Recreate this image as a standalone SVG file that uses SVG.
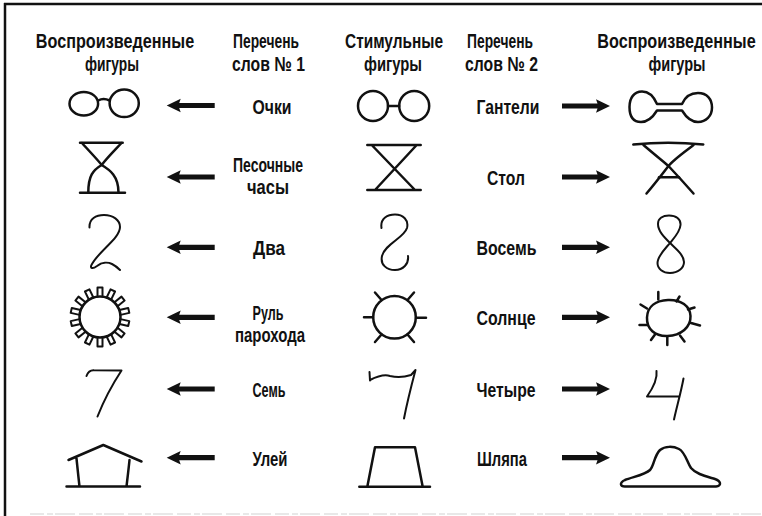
<svg xmlns="http://www.w3.org/2000/svg" width="762" height="516" viewBox="0 0 762 516">
  <defs>
    <style>
      .t { font-family: "Liberation Sans", Arial, sans-serif; font-weight: bold; font-size: 20.5px; fill: #111; text-anchor: middle; }
      .fig { fill: none; stroke: #111; stroke-width: 2.5; stroke-linecap: round; stroke-linejoin: round; }
      .pen { fill: none; stroke: #111; stroke-width: 2; stroke-linecap: round; stroke-linejoin: round; }
      .arrow { fill: #111; }
      .frame { stroke: #111; stroke-width: 2.5; fill: none; }
    </style>
    <!-- arrow pointing left, tip at origin -->
    <path id="arrL" d="M0,0 L14,-6.8 L12.5,-2.6 L48,-2.6 L48,2.6 L12.5,2.6 L14,6.8 Z"/>
    <!-- arrow pointing right, tip at origin -->
    <path id="arrR" d="M0,0 L-14,-6.8 L-12.5,-2.6 L-48,-2.6 L-48,2.6 L-12.5,2.6 L-14,6.8 Z"/>
    <!-- one tab of the ship's wheel -->
    <path id="tab" d="M-2.5,-20.5 V-29.5 H2.5 V-20.5"/>
  </defs>

  <rect width="762" height="516" fill="#fff"/>

  <!-- frame -->
  <g id="frame">
    <line class="frame" x1="4" y1="4" x2="762" y2="4"/>
    <line class="frame" x1="5" y1="3" x2="5" y2="516"/>
    <line x1="30" y1="514" x2="762" y2="514" stroke="#d2d2d2" stroke-width="1.2" stroke-dasharray="14 3 6 2 20 4"/>
  </g>

  <!-- column headers (long ones condensed by horizontal scaling) -->
  <g id="headers">
    <text class="t" transform="translate(115 48) scale(0.79 1)">Воспроизведенные</text>
    <text class="t" x="112" y="71" textLength="54" lengthAdjust="spacingAndGlyphs">фигуры</text>
    <text class="t" x="266" y="48" textLength="66" lengthAdjust="spacingAndGlyphs">Перечень</text>
    <text class="t" x="268.5" y="71" textLength="73" lengthAdjust="spacingAndGlyphs">слов № 1</text>
    <text class="t" x="394" y="48" textLength="98" lengthAdjust="spacingAndGlyphs">Стимульные</text>
    <text class="t" x="393" y="71" textLength="58" lengthAdjust="spacingAndGlyphs">фигуры</text>
    <text class="t" x="500" y="48" textLength="66" lengthAdjust="spacingAndGlyphs">Перечень</text>
    <text class="t" x="501.5" y="71" textLength="73" lengthAdjust="spacingAndGlyphs">слов № 2</text>
    <text class="t" transform="translate(676.5 48) scale(0.79 1)">Воспроизведенные</text>
    <text class="t" x="677" y="71" textLength="57" lengthAdjust="spacingAndGlyphs">фигуры</text>
  </g>

  <!-- row 1: glasses / dumbbell -->
  <g id="row1-left-figure">
    <ellipse class="fig" cx="83.8" cy="103.7" rx="14.3" ry="11.8"/>
    <ellipse class="fig" cx="124.2" cy="103.3" rx="14.6" ry="13.8"/>
    <path class="fig" d="M98.3,100.5 Q103.3,97.5 109.6,100.5"/>
  </g>
  <g id="row1-word1"><text class="t" x="272" y="113.5" textLength="39" lengthAdjust="spacingAndGlyphs">Очки</text></g>
  <g id="row1-stimulus">
    <circle class="fig" cx="373" cy="106" r="15"/>
    <circle class="fig" cx="414.2" cy="106" r="15"/>
    <line class="fig" x1="388" y1="106" x2="399.2" y2="106"/>
  </g>
  <g id="row1-word2"><text class="t" x="508" y="113.5" textLength="63" lengthAdjust="spacingAndGlyphs">Гантели</text></g>
  <g id="row1-right-figure">
    <path class="fig" d="M657,104 L682,104 C685,97 691,93 698,93 C707,93 712,99 712,107.5 C712,116 706,122 698,122 C691,122 686,117 682,110.5 L657,110.5 C653,117 648,122 641,122 C633,122 629.5,116 629.5,107 C629.5,98 634,91.5 642,91.5 C650,91.5 654,97 657,104 Z"/>
  </g>

  <!-- row 2: hourglass / table -->
  <g id="row2-left-figure">
    <path class="fig" d="M80,142.7 H122.7 M80,192.7 H125"/>
    <path class="fig" d="M82,143 C90,152 97,159 101.7,165 C110,170 118.5,176 118.5,192.5"/>
    <path class="fig" d="M121.5,143 C113,152 106,159 101.7,165 C93,170 88.3,176 88.3,192.5"/>
  </g>
  <g id="row2-word1">
    <text class="t" x="268" y="172" textLength="70" lengthAdjust="spacingAndGlyphs">Песочные</text>
    <text class="t" x="268" y="194" textLength="42" lengthAdjust="spacingAndGlyphs">часы</text>
  </g>
  <g id="row2-stimulus">
    <path class="fig" d="M367.3,145 H420.7 M367.3,190 H420.7 M371.7,145 L415,190 M416.7,145 L375,190"/>
  </g>
  <g id="row2-word2"><text class="t" x="506" y="185" textLength="38" lengthAdjust="spacingAndGlyphs">Стол</text></g>
  <g id="row2-right-figure">
    <path class="fig" d="M633.3,144.5 Q668,141 703.3,144.5"/>
    <path class="fig" d="M643.5,145 C655,155 664,162 668.5,166 C676,174 686,185 693.5,193.5"/>
    <path class="fig" d="M693.5,145 C683,153 673,160 668.5,166 C660,177 653,186 646.5,193.5"/>
    <path class="fig" d="M659,177.3 H679"/>
  </g>

  <!-- row 3: two / eight -->
  <g id="row3-left-figure">
    <path class="pen" d="M89.5,227.5 C89,219 96,215 104,215 C113,215 120,220 120,227 C120,238 100,250 92,264 C89,269 93,269 97,266 C102,262 108,262 112,264 C116,266 118,268 120,270"/>
  </g>
  <g id="row3-word1"><text class="t" x="269" y="255" textLength="32" lengthAdjust="spacingAndGlyphs">Два</text></g>
  <g id="row3-stimulus">
    <path class="pen" d="M381.5,228 C380,218 388,214.5 395,214.5 C403,214.5 409,220 407,228 C404,238 385,244 382,256 C380,265 387,270 395,270 C403,270 409,264 408,256"/>
  </g>
  <g id="row3-word2"><text class="t" x="506.5" y="255" textLength="60" lengthAdjust="spacingAndGlyphs">Восемь</text></g>
  <g id="row3-right-figure">
    <path class="pen" d="M670,243 C664,237 658,231 658,224 C658,218 663,215.5 669,215.5 C676,215.5 681,219 680.5,225 C680,232 674,238 670,243 C665,249 657.5,256 657.5,263 C657.5,269 663,273 670,273 C678,273 684,268 684,262 C684,255 676,249 670,243 Z"/>
  </g>

  <!-- row 4: ship's wheel / sun -->
  <g id="row4-left-figure">
    <circle class="fig" cx="100" cy="317" r="20.5"/>
    <g class="pen" transform="translate(100 317)">
      <use href="#tab" transform="rotate(0)"/>
      <use href="#tab" transform="rotate(25.7)"/>
      <use href="#tab" transform="rotate(51.4)"/>
      <use href="#tab" transform="rotate(77.1)"/>
      <use href="#tab" transform="rotate(102.9)"/>
      <use href="#tab" transform="rotate(128.6)"/>
      <use href="#tab" transform="rotate(154.3)"/>
      <use href="#tab" transform="rotate(180)"/>
      <use href="#tab" transform="rotate(205.7)"/>
      <use href="#tab" transform="rotate(231.4)"/>
      <use href="#tab" transform="rotate(257.1)"/>
      <use href="#tab" transform="rotate(282.9)"/>
      <use href="#tab" transform="rotate(308.6)"/>
      <use href="#tab" transform="rotate(334.3)"/>
    </g>
  </g>
  <g id="row4-word1">
    <text class="t" x="268" y="320" textLength="31" lengthAdjust="spacingAndGlyphs">Руль</text>
    <text class="t" x="270" y="342" textLength="70" lengthAdjust="spacingAndGlyphs">парохода</text>
  </g>
  <g id="row4-stimulus">
    <circle class="fig" cx="394.5" cy="317.3" r="21.3"/>
    <path class="fig" d="M416,317.8 H426 M373,317.3 H364 M381.5,300 L375,292.5 M407.5,300 L414,292.5 M381.5,334.5 L375,342 M407.5,334.5 L414,342"/>
  </g>
  <g id="row4-word2"><text class="t" x="506" y="325" textLength="59" lengthAdjust="spacingAndGlyphs">Солнце</text></g>
  <g id="row4-right-figure">
    <path class="fig" d="M668,300 C681,299.5 690,306 690.5,316 C691,327 681,335.5 667.5,336 C655,336.5 646.5,329 647,317.5 C647.5,306 656,300.5 668,300 Z"/>
    <path class="fig" d="M658.3,292 V299.5 M679.5,296.5 L676.5,301.5 M688,309.5 L694.5,307.5 M691,323 L700,325.5 M680,335.5 L684.5,341.5 M667.3,336.5 V345 M655,334.5 L651,340 M647.5,325 H639.5 M647,308.5 L640.5,304.5"/>
  </g>

  <!-- row 5: seven / four -->
  <g id="row5-left-figure">
    <path class="pen" d="M86.5,376 C88,372 90,370 94,370.3 L121.5,370.5 C112,385 104,400 97.5,416.5"/>
  </g>
  <g id="row5-word1"><text class="t" x="269" y="397" textLength="33" lengthAdjust="spacingAndGlyphs">Семь</text></g>
  <g id="row5-stimulus">
    <path class="pen" d="M369.5,372 L370,380.5 M370,380 C378,376 384,374 390,376 C398,378 405,377 411,375 L415.5,370 C411,387 407,403 404,418.5"/>
  </g>
  <g id="row5-word2"><text class="t" x="506" y="397" textLength="59" lengthAdjust="spacingAndGlyphs">Четыре</text></g>
  <g id="row5-right-figure">
    <path class="pen" d="M656.5,371 C657.5,378 653,388 647,396.5 L679,396.5 M683.5,378.5 C681,392 677,406 674,419.5"/>
  </g>

  <!-- row 6: beehive / hat -->
  <g id="row6-left-figure">
    <path class="fig" d="M68.5,460 L103.3,445 L141.5,461.5 M76.5,458.5 C77.5,468 78.5,478 79.5,486.5 M129.5,460 C128.5,470 127.5,478 126.5,486.5 M66.5,486.5 H140"/>
  </g>
  <g id="row6-word1"><text class="t" x="270" y="466" textLength="35" lengthAdjust="spacingAndGlyphs">Улей</text></g>
  <g id="row6-stimulus">
    <path class="fig" d="M367.3,486.7 L375,447.3 H415 L422.7,486.7 M359.3,486.7 H430"/>
  </g>
  <g id="row6-word2"><text class="t" x="502" y="466" textLength="50" lengthAdjust="spacingAndGlyphs">Шляпа</text></g>
  <g id="row6-right-figure">
    <path class="fig" d="M626,486.5 L716,486.5 C722,486 721,481 715,479 C705,476 696,474 691,468 C687,462 685,452 679,449 C673,446 665,446 660,450 C654,456 654,466 650,470 C645,475 632,477 625,480 C619,483 620,487 626,486.5 Z"/>
  </g>

  <!-- arrows from word lists to reproduced figures -->
  <g id="connectors" class="arrow">
    <use href="#arrL" x="166.7" y="105.5"/>
    <use href="#arrL" x="166.7" y="177"/>
    <use href="#arrL" x="166.7" y="247.3"/>
    <use href="#arrL" x="166.7" y="317.3"/>
    <use href="#arrL" x="166.7" y="389"/>
    <use href="#arrL" x="166.7" y="457.7"/>
    <use href="#arrR" x="610" y="106"/>
    <use href="#arrR" x="610" y="177"/>
    <use href="#arrR" x="610" y="247.3"/>
    <use href="#arrR" x="610" y="317.3"/>
    <use href="#arrR" x="610" y="389"/>
    <use href="#arrR" x="610" y="457.7"/>
  </g>
</svg>
